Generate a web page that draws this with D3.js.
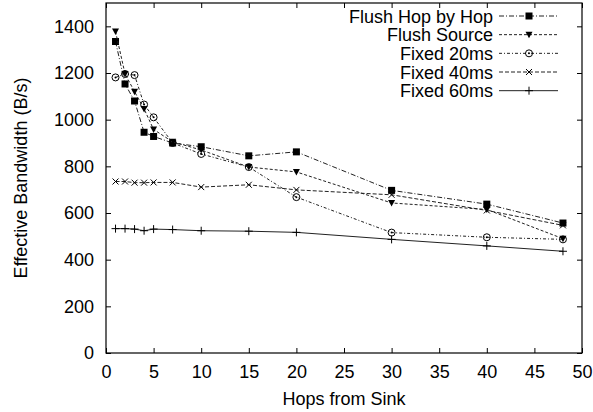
<!DOCTYPE html>
<html>
<head>
<meta charset="utf-8">
<script src="https://cdn.jsdelivr.net/npm/d3@7"></script>
<style>
  html, body { margin: 0; padding: 0; background: #fff; overflow: hidden; }
  svg { display: block; }
  svg text { font-family: "Liberation Sans", Arial, Helvetica, sans-serif; fill: #000; }
</style>
</head>
<body>
<div id="chart"></div>
<script>
// hops from sink
const hops = [1, 2, 3, 4, 5, 7, 10, 15, 20, 30, 40, 48];

// effective bandwidth (B/s) per scheme
const flushHopByHop = [1335, 1153, 1080, 946, 928, 900, 884, 845, 862, 697, 638, 557];
const flushSource   = [1378, 1196, 1120, 1046, 958, 905, 870, 797, 776, 643, 615, 490];
const fixed20       = [1181, 1196, 1191, 1065, 1010, 900, 853, 797, 668, 516, 496, 487];
const fixed40       = [735, 735, 730, 730, 731, 731, 711, 721, 699, 678, 611, 547];
const fixed60       = [533, 533, 531, 524, 531, 529, 524, 522, 517, 487, 459, 436];

const seriesNames = ['Flush Hop by Hop', 'Flush Source', 'Fixed 20ms', 'Fixed 40ms', 'Fixed 60ms'];
const xTicks = [0, 5, 10, 15, 20, 25, 30, 35, 40, 45, 50];
const yTicks = [0, 200, 400, 600, 800, 1000, 1200, 1400];

const width = 593;
const height = 412;
const margin = {top: 3, right: 11, bottom: 59, left: 106};
const innerWidth = width - margin.left - margin.right;
const innerHeight = height - margin.top - margin.bottom;
const fontSize = '18px';
const fontFamily = '"Liberation Sans", Arial, Helvetica, sans-serif';
const tickLen = 5;

const series = [
    {name: seriesNames[0], values: flushHopByHop, dash: '5,2,1,2', marker: 'square'},
    {name: seriesNames[1], values: flushSource, dash: '3,2', marker: 'triangle'},
    {name: seriesNames[2], values: fixed20, dash: '3,2,1,2', marker: 'circle'},
    {name: seriesNames[3], values: fixed40, dash: '4,2', marker: 'x'},
    {name: seriesNames[4], values: fixed60, dash: null, marker: 'plus'}
];

const xScale = d3.scaleLinear().domain([0, 50]).range([0, innerWidth]);
const yScale = d3.scaleLinear().domain([0, 1500]).range([innerHeight, 0]);

const svg = d3.select('#chart').append('svg')
    .attr('width', width)
    .attr('height', height);

const g = svg.append('g')
    .attr('transform', `translate(${margin.left},${margin.top})`);

// axes with inward ticks, mirrored on top and right
const xAxis = g.append('g')
    .attr('transform', `translate(0,${innerHeight})`)
    .call(d3.axisBottom(xScale).tickValues(xTicks).tickSize(-tickLen).tickPadding(12).tickFormat(d3.format('d')));
const xTop = g.append('g')
    .call(d3.axisTop(xScale).tickValues(xTicks).tickSize(-tickLen).tickFormat(''));
const yAxis = g.append('g')
    .call(d3.axisLeft(yScale).tickValues(yTicks).tickSize(-tickLen).tickPadding(12).tickFormat(d3.format('d')));
const yRight = g.append('g')
    .attr('transform', `translate(${innerWidth},0)`)
    .call(d3.axisRight(yScale).tickValues(yTicks).tickSize(-tickLen).tickFormat(''));

[xAxis, xTop, yAxis, yRight].forEach(a => {
    a.attr('font-size', 18).attr('font-family', fontFamily);
    a.select('.domain').remove();
    a.selectAll('.tick line').attr('stroke', '#000');
    a.selectAll('.tick text').style('font-size', fontSize).attr('fill', '#000');
});
// mirrored axes carry ticks only
xTop.selectAll('.tick text').remove();
yRight.selectAll('.tick text').remove();

// border
g.append('rect')
    .attr('width', innerWidth)
    .attr('height', innerHeight)
    .attr('fill', 'none')
    .attr('stroke', '#000')
    .attr('stroke-width', 1.2);

// axis titles
svg.append('text')
    .attr('x', margin.left + innerWidth / 2)
    .attr('y', 405)
    .attr('text-anchor', 'middle')
    .style('font-size', fontSize)
    .text('Hops from Sink');

svg.append('text')
    .attr('transform', `translate(27,${margin.top + innerHeight / 2}) rotate(-90)`)
    .attr('text-anchor', 'middle')
    .style('font-size', fontSize)
    .text('Effective Bandwidth (B/s)');

const drawMarker = (sel, type, cx, cy) => {
    if (type === 'square') {
        sel.append('rect').attr('x', cx - 3.5).attr('y', cy - 3.5)
            .attr('width', 7).attr('height', 7).attr('fill', '#000');
    } else if (type === 'triangle') {
        sel.append('path')
            .attr('d', `M${cx - 3.5},${cy - 3}L${cx + 3.5},${cy - 3}L${cx},${cy + 3.5}Z`)
            .attr('fill', '#000');
    } else if (type === 'circle') {
        sel.append('circle').attr('cx', cx).attr('cy', cy).attr('r', 3.5)
            .attr('fill', 'none').attr('stroke', '#000').attr('stroke-width', 1);
        sel.append('circle').attr('cx', cx).attr('cy', cy).attr('r', 1)
            .attr('fill', '#000');
    } else if (type === 'x') {
        sel.append('path')
            .attr('d', `M${cx - 3},${cy - 3}L${cx + 3},${cy + 3}M${cx - 3},${cy + 3}L${cx + 3},${cy - 3}`)
            .attr('stroke', '#000').attr('stroke-width', 1);
    } else {
        sel.append('path')
            .attr('d', `M${cx - 4},${cy}L${cx + 4},${cy}M${cx},${cy - 4}L${cx},${cy + 4}`)
            .attr('stroke', '#000').attr('stroke-width', 1);
    }
};

const line = d3.line()
    .x(d => xScale(d[0]))
    .y(d => yScale(d[1]));

series.forEach(s => {
    const pts = hops.map((h, i) => [h, s.values[i]]);
    g.append('path')
        .datum(pts)
        .attr('fill', 'none')
        .attr('stroke', '#222')
        .attr('stroke-width', 1)
        .attr('stroke-dasharray', s.dash)
        .attr('d', line);
    const mg = g.append('g');
    pts.forEach(p => drawMarker(mg, s.marker, xScale(p[0]), yScale(p[1])));
});

// legend
const legend = svg.append('g');
series.forEach((s, i) => {
    const y = 16 + i * 18.67;
    legend.append('text')
        .attr('x', 493)
        .attr('y', y + 6.5)
        .attr('text-anchor', 'end')
        .style('font-size', fontSize)
        .text(s.name);
    legend.append('line')
        .attr('x1', 499).attr('x2', 558)
        .attr('y1', y).attr('y2', y)
        .attr('stroke', '#222')
        .attr('stroke-width', 1)
        .attr('stroke-dasharray', s.dash);
    drawMarker(legend, s.marker, 529, y);
});
</script>
</body>
</html>
